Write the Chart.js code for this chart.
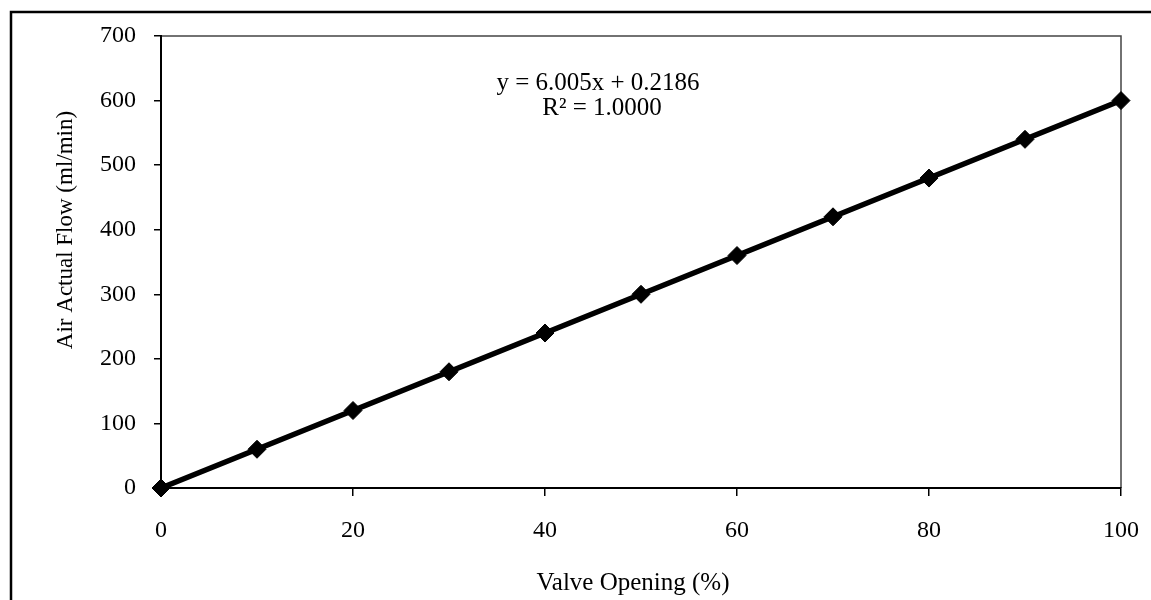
<!DOCTYPE html>
<html lang="en">
<head>
<meta charset="UTF-8">
<title>Air Actual Flow</title>
<script src="https://cdn.jsdelivr.net/npm/chart.js@4.4.1/dist/chart.umd.min.js"></script>
<style>
  html, body { margin: 0; padding: 0; background: #fff; }
  #wrap { width: 1151px; height: 600px; position: relative; }
</style>
</head>
<body>
<div id="wrap"><canvas id="myChart" width="1151" height="600"></canvas></div>
<script>
    // valve opening (%) vs measured air flow (ml/min)
    var valveOpening = [0, 10, 20, 30, 40, 50, 60, 70, 80, 90, 100];
    var airFlow = [0, 60, 120, 180, 240, 300, 360, 420, 480, 540, 600];
    var fitLines = ['y = 6.005x + 0.2186', 'R\u00B2 = 1.0000'];
    var xTitle = 'Valve Opening (%)';
    var yTitle = 'Air Actual Flow (ml/min)';

    var serif = "'Liberation Serif', 'Times New Roman', serif";

    var points = [];
    for (var i = 0; i < valveOpening.length; i++) {
        points.push({x: valveOpening[i], y: airFlow[i]});
    }

    // outer frame, thin grey box round the plot, axis titles, trendline text
    var decor = {
        id: 'decor',
        beforeDraw(chart) {
            var c = chart.ctx;
            c.save();
            c.fillStyle = '#fff';
            c.fillRect(0, 0, chart.width, chart.height);
            c.strokeStyle = '#000';
            c.lineWidth = 2.5;
            c.beginPath();
            c.moveTo(11, chart.height);
            c.lineTo(11, 12);
            c.lineTo(chart.width, 12);
            c.stroke();
            var a = chart.chartArea;
            c.strokeStyle = '#444';
            c.lineWidth = 1.5;
            c.beginPath();
            c.moveTo(a.left, a.top);
            c.lineTo(a.right, a.top);
            c.lineTo(a.right, a.bottom);
            c.stroke();

            c.fillStyle = '#000';
            c.textAlign = 'center';
            c.textBaseline = 'alphabetic';
            c.font = '25px ' + serif;
            c.fillText(xTitle, 633, 590);
            c.translate(72, 230);
            c.rotate(-Math.PI / 2);
            c.font = '23px ' + serif;
            c.fillText(yTitle, 0, 0);
            c.restore();
        },
        afterDatasetsDraw(chart) {
            var c = chart.ctx;
            c.save();
            c.fillStyle = '#000';
            c.font = '25px ' + serif;
            c.textAlign = 'center';
            c.textBaseline = 'alphabetic';
            c.fillText(fitLines[0], 598, 90);
            c.fillText(fitLines[1], 602, 115);
            c.restore();
        }
    };

    var ctx = document.getElementById('myChart');
    var myChart = new Chart(ctx, {
        type: 'scatter',
        data: {
            datasets: [{
                data: points,
                showLine: true,
                borderColor: '#000',
                backgroundColor: '#000',
                borderWidth: 5.5,
                pointStyle: 'rectRot',
                pointRadius: 9,
                pointBorderWidth: 1,
                clip: false
            }]
        },
        options: {
            responsive: false,
            animation: false,
            layout: { padding: { top: 36, right: 30, left: 0, bottom: 0 } },
            plugins: { legend: false, tooltip: { enabled: false } },
            scales: {
                x: {
                    type: 'linear',
                    min: 0, max: 100,
                    afterFit(s) { s.height = 112; s.paddingLeft = 0; s.paddingRight = 0; },
                    border: { color: '#000', width: 2 },
                    grid: { drawOnChartArea: false, tickLength: 8, color: '#000', lineWidth: 1.5 },
                    ticks: { stepSize: 20, color: '#000', padding: 20, font: { family: serif, size: 24 } }
                },
                y: {
                    min: 0, max: 700,
                    afterFit(s) { s.width = 161; s.paddingTop = 0; s.paddingBottom = 0; },
                    border: { color: '#000', width: 2 },
                    grid: { drawOnChartArea: false, tickLength: 7, color: '#000', lineWidth: 1.5 },
                    ticks: { stepSize: 100, color: '#000', padding: 18, font: { family: serif, size: 24 } }
                }
            }
        },
        plugins: [decor]
    });
</script>
</body>
</html>
